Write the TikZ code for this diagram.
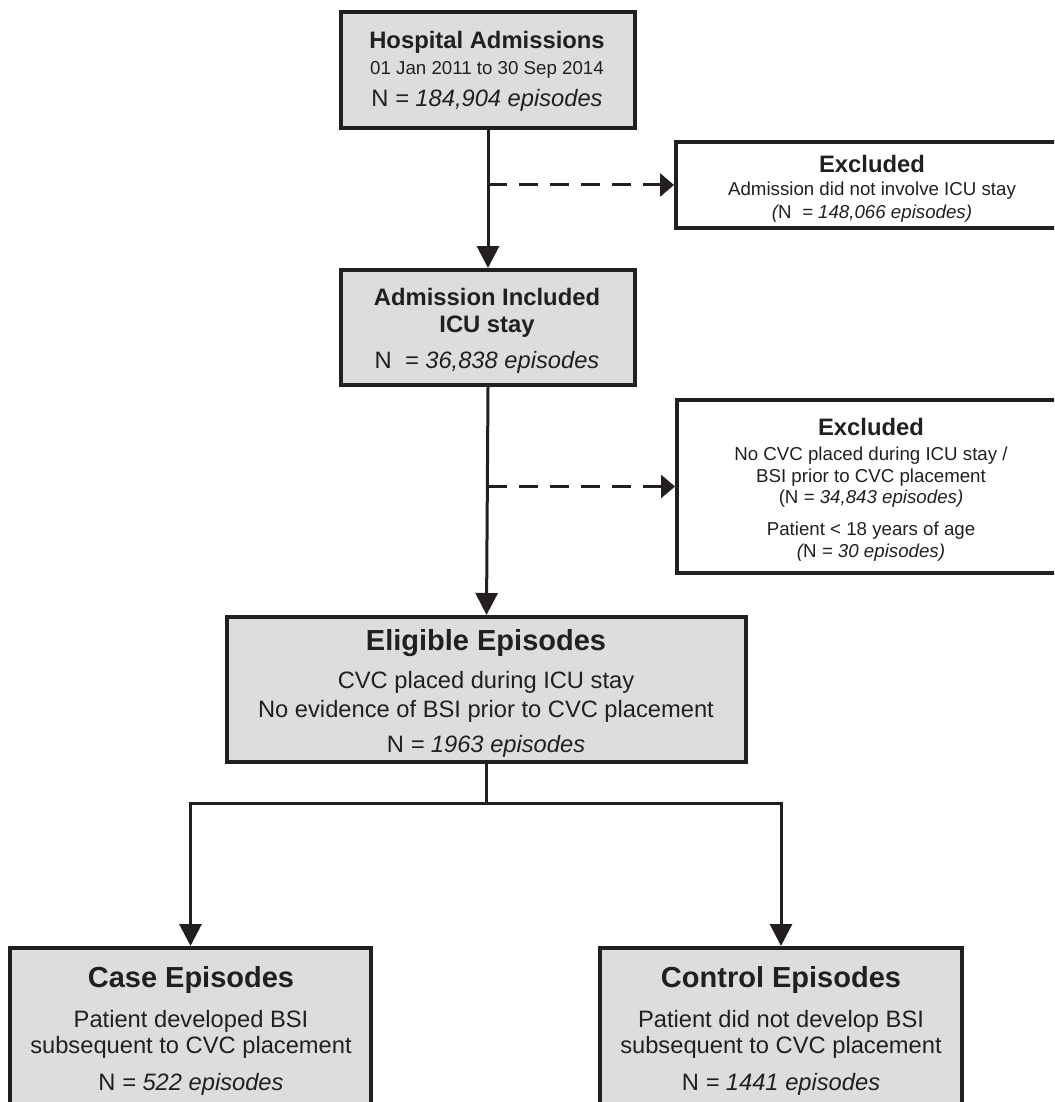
\documentclass[tikz,border=0pt]{standalone}
\usepackage{fontspec}
\setmainfont{Liberation Sans}
\usetikzlibrary{arrows.meta}
\definecolor{ink}{HTML}{231F20}
\definecolor{boxfill}{HTML}{DCDDDF}
\newcommand{\bigT}{\fontsize{29}{34}\selectfont\bfseries}
\newcommand{\bigB}{\fontsize{23.7}{28}\selectfont}
\newcommand{\midT}{\fontsize{23.8}{28}\selectfont\bfseries}
\newcommand{\smB}{\fontsize{18.7}{22}\selectfont}
\tikzset{
  gbox/.style={draw=ink, line width=4pt, fill=boxfill, rectangle, inner sep=0pt},
  wbox/.style={draw=ink, line width=4pt, fill=white, rectangle, inner sep=0pt},
  conn/.style={draw=ink, line width=3pt},
  arr/.style={conn, -{Triangle[length=22pt,width=22pt]}},
  darr/.style={conn, dash pattern=on 19pt off 12pt, -{Triangle[length=14pt,width=23pt]}},
  txt/.style={anchor=base, text=ink, inner sep=0pt}
}
\begin{document}
\begin{tikzpicture}[x=1pt,y=-1pt]
\useasboundingbox (0,0) rectangle (1054,1102);
\clip (0,0) rectangle (1054,1102);
% boxes
\node[gbox, minimum width=294pt, minimum height=116pt] (b1) at (488,70) {};
\node[gbox, minimum width=294pt, minimum height=115pt] (b2) at (488,327.5) {};
\node[gbox, minimum width=519pt, minimum height=145pt] (b3) at (486.5,689.5) {};
\node[wbox, minimum width=394pt, minimum height=86pt] (e1) at (873,185) {};
\node[wbox, minimum width=393pt, minimum height=173pt] (e2) at (873.5,486.5) {};
\node[gbox, minimum width=361pt, minimum height=167pt] (case) at (190.5,1031.5) {};
\node[gbox, minimum width=362pt, minimum height=167pt] (ctrl) at (781,1031.5) {};
% connectors
\draw[arr] (b1.south) -- (b2.north);
\draw[arr] (b2.south) -- (b3.north);
\coordinate (j1) at (b1.south |- e1.west);
\coordinate (j2) at (b2.south |- e2.west);
\draw[darr] (j1) -- (e1.west);
\draw[darr] (j2) -- (e2.west);
\coordinate (split) at (486.5,803);
\draw[conn] (b3.south) -- (split);
\draw[arr] (split) -| (case.north);
\draw[arr] (split) -| (ctrl.north);
% box 1 text
\node[txt] (t1a) at (487,49) {\midT Hospital Admissions};
\node[txt] (t1b) at (487,75) {\smB 01 Jan 2011 to 30 Sep 2014};
\node[txt] (t1c) at (487,107) {\bigB N {\itshape = 184,904 episodes}};
% box 2 text
\node[txt] (t2a) at (487,305) {\midT Admission Included};
\node[txt] (t2b) at (487,332) {\midT ICU stay};
\node[txt] (t2c) at (487,368) {\bigB N\ \ {\itshape = 36,838 episodes}};
% excluded 1
\node[txt] (te1a) at (872,172) {\midT Excluded};
\node[txt] (te1b) at (872,195) {\smB Admission did not involve ICU stay};
\node[txt] (te1c) at (872,218) {\smB {\itshape(}N\ \ {\itshape = 148,066 episodes)}};
% excluded 2
\node[txt] (te2a) at (871,435) {\midT Excluded};
\node[txt] (te2b) at (871,460) {\smB No CVC placed during ICU stay /};
\node[txt] (te2c) at (871,482) {\smB BSI prior to CVC placement};
\node[txt] (te2d) at (871,503) {\smB (N {\itshape = 34,843 episodes)}};
\node[txt] (te2e) at (871,535) {\smB Patient < 18 years of age};
\node[txt] (te2f) at (871,557) {\smB {\itshape(}N {\itshape = 30 episodes)}};
% eligible
\node[txt] (t3a) at (486,650) {\bigT Eligible Episodes};
\node[txt] (t3b) at (486,688) {\bigB CVC placed during ICU stay};
\node[txt] (t3c) at (486,717) {\bigB No evidence of BSI prior to CVC placement};
\node[txt] (t3d) at (486,752) {\bigB N {\itshape = 1963 episodes}};
% case
\node[txt] (tca) at (191,987) {\bigT Case Episodes};
\node[txt] (tcb) at (191,1027) {\bigB Patient developed BSI};
\node[txt] (tcc) at (191,1053) {\bigB subsequent to CVC placement};
\node[txt] (tcd) at (191,1090) {\bigB N {\itshape = 522 episodes}};
% control
\node[txt] (tka) at (781,987) {\bigT Control Episodes};
\node[txt] (tkb) at (781,1027) {\bigB Patient did not develop BSI};
\node[txt] (tkc) at (781,1053) {\bigB subsequent to CVC placement};
\node[txt] (tkd) at (781,1090) {\bigB N {\itshape = 1441 episodes}};
\end{tikzpicture}
\end{document}
